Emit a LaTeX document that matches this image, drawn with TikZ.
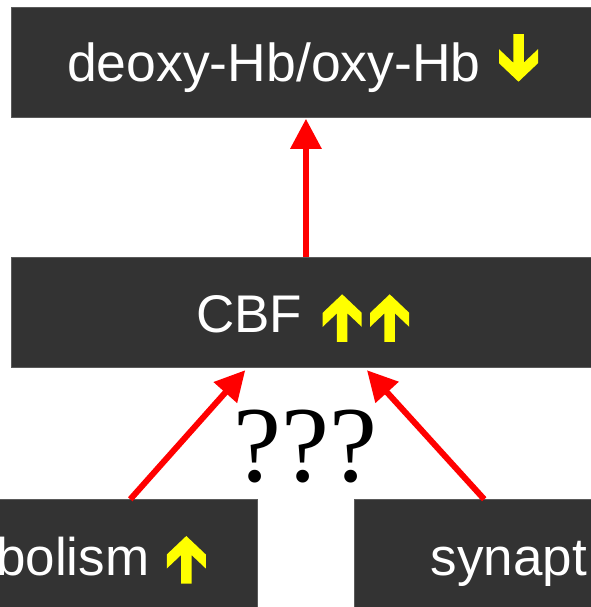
\documentclass[tikz,border=0pt]{standalone}
\usepackage{fontspec}
\setmainfont{Liberation Serif}
\setsansfont{Liberation Sans}
\usepackage{xcolor}
\usetikzlibrary{arrows.meta}
\definecolor{boxgray}{HTML}{333333}
\definecolor{boxedge}{HTML}{5A5A5A}
\definecolor{markyellow}{HTML}{FFFF00}
\definecolor{linkred}{HTML}{FF0000}

\tikzset{
  box/.style={fill=boxgray,draw=boxedge,line width=0.5pt,minimum height=110pt,inner sep=0pt,anchor=north west},
  boxtext/.style={text=white,inner sep=0pt,font=\sffamily\fontsize{53}{53}\selectfont},
  link/.style={draw=linkred,line width=6pt,-{Triangle[length=30pt,width=30pt]}},
  pics/upmark/.style={code={
    \fill[markyellow] (0,0) -- (19.5,18.5) -- (19.5,32.5) -- (5.25,19) -- (5.25,47.5)
      -- (-5.25,47.5) -- (-5.25,19) -- (-19.5,32.5) -- (-19.5,18.5) -- cycle;}}
}

\begin{document}
\begin{tikzpicture}[x=1pt,y=-1pt]
\useasboundingbox (0,0) rectangle (590,607);

\node[box,minimum width=590pt] (hb) at (10.7,6.7) {};
\node[box,minimum width=590pt] (cbf) at (10.7,257) {};
\node[box,minimum width=266.7pt] (meta) at (-10,499.3) {};
\node[box,minimum width=245.7pt] (syn) at (354.3,499.3) {};

\node[boxtext,anchor=base west,font=\sffamily\fontsize{53.5}{53.5}\selectfont] (hbtext) at (67,81.7) {deoxy-Hb/oxy-Hb};
\pic[yscale=-1] at (518.5,81.7) {upmark};

\node[boxtext,anchor=base west] (cbftext) at (196,332.7) {CBF};
\pic at (342.2,294.3) {upmark};
\pic at (389.7,294.3) {upmark};

\node[boxtext,anchor=base east] (metatext) at (149.5,575) {bolism};
\pic at (186.3,536) {upmark};

\node[boxtext,anchor=base west] (syntext) at (430.4,575) {synapt};

\node[inner sep=0pt,anchor=base,font=\rmfamily\fontsize{108}{108}\selectfont] (query) at (305.7,481.5) {???};

\draw[link] (cbf.north) -- ([yshift=-1.6pt]hb.south);
\draw[link] ([xshift=6.65pt]meta.north) -- ([xshift=-60.7pt,yshift=-2.7pt]cbf.south);
\draw[link] ([xshift=6.85pt]syn.north) -- ([xshift=61pt,yshift=-2.7pt]cbf.south);
\end{tikzpicture}
\end{document}
